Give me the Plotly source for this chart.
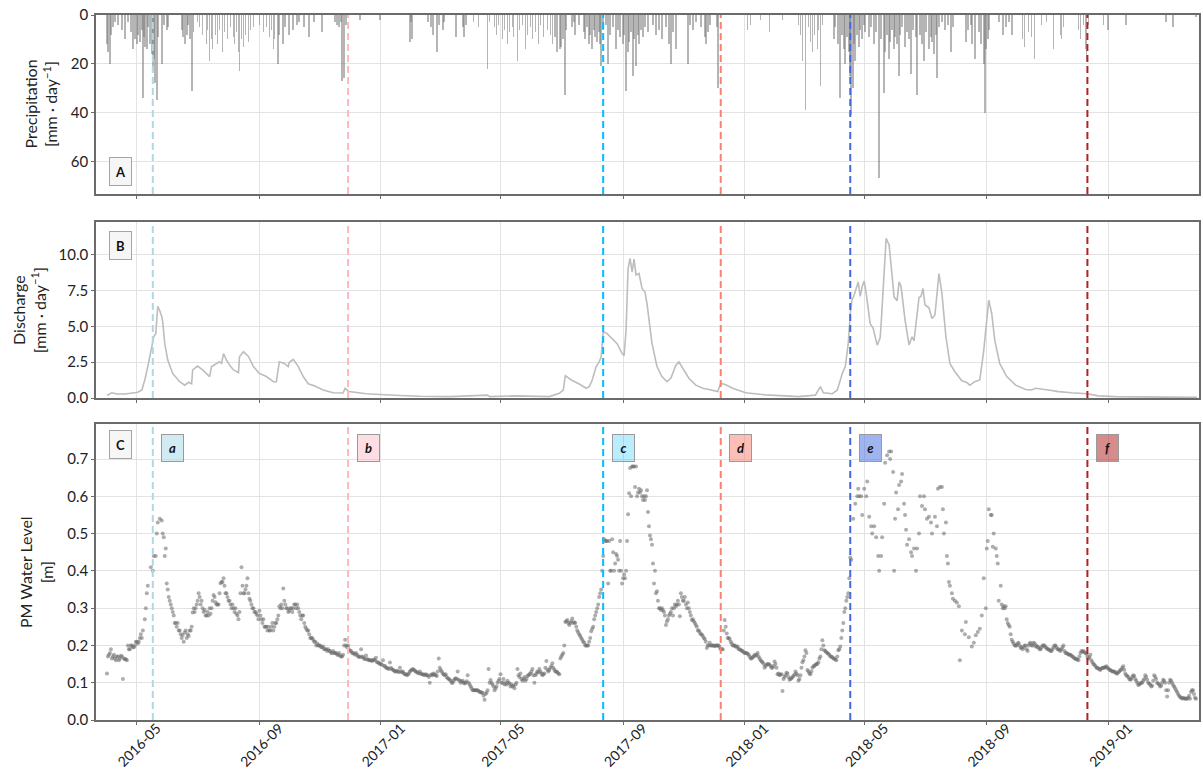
import pandas as pd
import plotly.graph_objects as go
from plotly.subplots import make_subplots

# Day 0 of the record
START = pd.Timestamp("2016-04-01")

# Daily precipitation on wet days: (day of record, mm/day)
rain = [
    (0, 12), (1, 15), (3, 20), (4, 8), (6, 5), (8, 3), (11, 4), (15, 6), (18, 10), (21, 3), (24, 7), (26, 14),
    (28, 10), (30, 12), (31, 8), (33, 11), (35, 6), (36, 34), (37, 9), (38, 13), (40, 14), (41, 5), (43, 12),
    (45, 16), (46, 22), (47, 18), (48, 28), (50, 35), (51, 9), (55, 20), (57, 4), (60, 6), (61, 5),
    (75, 6), (76, 9), (78, 12), (80, 8), (81, 4), (83, 10), (85, 31), (87, 7),
    (91, 3), (93, 5), (96, 8), (100, 12), (101, 6), (103, 19), (105, 10), (106, 14), (109, 8), (111, 12),
    (113, 6), (116, 15), (118, 7), (121, 10), (124, 5), (127, 9), (128, 12), (130, 7), (132, 15), (133, 23),
    (135, 10), (137, 13), (139, 8), (142, 11), (144, 6), (147, 5), (153, 4), (157, 7), (160, 5), (163, 9),
    (165, 6), (167, 14), (168, 10), (172, 20), (173, 8), (177, 12), (179, 5), (183, 8), (187, 6), (191, 4),
    (193, 3), (198, 5), (203, 9), (208, 3), (216, 7), (229, 3), (231, 4), (233, 5), (235, 3), (236, 27),
    (238, 26), (240, 4), (254, 2), (274, 2),
    (304, 11), (305, 3), (306, 10), (322, 3), (325, 5), (327, 8), (331, 15), (333, 4), (337, 6), (338, 3),
    (350, 9), (357, 5), (358, 9), (360, 4), (368, 3), (373, 5), (382, 22), (384, 3),
    (389, 5), (391, 8), (393, 4), (397, 10), (399, 6), (402, 12), (404, 7), (407, 5), (408, 9), (412, 19),
    (414, 6), (417, 4), (420, 14), (422, 8), (425, 5), (427, 10), (430, 7), (433, 12), (435, 4), (438, 9),
    (442, 6), (445, 8), (447, 12), (450, 9), (452, 15), (455, 14), (456, 13), (458, 10), (460, 33), (461, 6),
    (467, 5), (469, 3), (470, 8), (474, 4), (479, 7), (480, 10), (482, 5), (484, 12), (485, 8), (487, 14),
    (489, 6), (490, 9), (492, 11), (494, 7), (495, 12), (496, 21), (498, 6),
    (501, 4), (503, 20), (505, 8), (508, 5), (511, 14), (513, 6), (515, 9), (518, 12), (519, 8), (521, 31),
    (523, 15), (524, 11), (526, 7), (528, 25), (529, 10), (531, 21), (533, 8), (534, 12), (536, 6), (538, 9),
    (540, 5), (543, 7), (548, 4), (551, 8), (554, 6), (557, 10), (561, 5), (564, 12), (566, 20), (568, 7),
    (571, 14), (583, 20), (585, 4), (588, 6), (591, 3), (596, 5), (600, 9), (601, 12), (603, 7), (605, 4),
    (612, 5), (613, 30), (643, 6), (646, 4), (656, 2), (665, 7), (678, 2),
    (694, 4), (696, 8), (698, 19), (701, 39), (704, 5), (706, 11), (708, 15), (710, 8), (713, 14), (714, 6),
    (716, 29), (718, 4), (730, 10), (731, 5), (734, 12), (736, 34), (738, 8), (740, 14), (741, 20), (743, 9),
    (745, 15), (746, 25), (747, 41), (749, 30), (750, 12), (751, 19), (753, 8), (755, 13), (756, 6), (758, 10),
    (760, 4), (761, 7), (765, 9), (767, 5), (770, 12), (772, 7), (775, 67), (777, 10), (780, 32), (781, 15),
    (783, 8), (785, 18), (786, 11), (788, 6), (790, 14), (791, 9), (793, 12), (795, 25), (796, 8), (798, 5),
    (801, 13), (803, 7), (805, 10), (807, 24), (809, 6), (812, 9), (813, 33), (816, 8), (818, 12), (820, 19),
    (822, 7), (825, 14), (827, 9), (828, 11), (830, 16), (832, 8), (833, 26), (835, 5), (838, 3), (841, 6),
    (844, 4), (847, 15), (849, 5), (862, 11), (864, 6), (867, 4), (868, 12), (871, 18), (875, 7), (877, 12),
    (880, 20), (881, 40), (882, 14), (884, 10), (885, 6), (895, 3), (899, 8), (902, 5), (905, 3), (908, 8),
    (919, 10), (921, 13), (925, 7), (928, 9), (931, 18), (938, 4), (943, 3), (950, 14), (957, 8), (958, 10),
    (960, 5), (975, 6), (977, 10), (980, 4), (982, 14), (983, 19), (985, 4), (1000, 4), (1005, 6), (1023, 4),
    (1063, 3), (1070, 5), (1093, 1),
]

# Catchment discharge: (day of record, mm/day)
discharge = [
    (0, 0.2), (5, 0.37), (10, 0.28), (18, 0.28), (26, 0.35), (31, 0.4), (35, 0.56), (38, 1.26), (41, 2.2),
    (45, 3.8), (47, 4.3), (49, 4.5), (50, 5.4), (51, 6.4), (53, 6.1), (55, 5.7), (56, 5.3), (58, 3.8),
    (61, 2.65), (66, 1.72), (73, 1.14), (78, 0.9), (82, 1.1), (85, 1.0), (86, 1.96), (91, 2.23), (96, 1.96),
    (102, 1.5), (103, 1.5), (105, 2.2), (110, 2.42), (113, 2.53), (115, 2.42), (117, 3.1), (120, 2.65),
    (123, 2.3), (127, 1.96), (132, 1.77), (133, 2.88), (137, 3.23), (142, 2.9), (147, 2.2), (153, 1.72),
    (160, 1.5), (167, 1.14), (170, 1.14), (173, 2.53), (178, 2.42), (182, 2.2), (183, 2.5), (187, 2.7),
    (192, 2.2), (197, 1.5), (202, 1.0), (208, 0.85), (217, 0.56), (227, 0.37), (237, 0.35), (239, 0.68),
    (243, 0.45), (260, 0.3), (277, 0.22), (294, 0.18), (314, 0.12), (344, 0.1), (382, 0.2), (384, 0.1),
    (411, 0.15), (424, 0.12), (444, 0.1), (454, 0.33), (458, 0.56), (460, 1.56), (466, 1.26), (474, 0.98),
    (481, 0.68), (484, 0.8), (487, 1.26), (491, 2.2), (494, 2.53), (496, 2.88), (498, 4.63), (502, 4.5),
    (507, 4.17), (512, 3.8), (517, 3.12), (519, 2.95), (521, 4.75), (523, 9.05), (525, 9.75), (527, 8.8),
    (529, 9.7), (531, 8.6), (534, 8.7), (537, 7.66), (540, 7.4), (542, 6.6), (547, 3.82), (552, 2.2),
    (557, 1.5), (562, 1.14), (566, 1.4), (571, 2.3), (574, 2.53), (579, 2.0), (584, 1.38), (591, 0.9),
    (598, 0.68), (604, 0.6), (613, 0.45), (616, 1.03), (621, 0.92), (628, 0.68), (641, 0.37), (661, 0.22),
    (694, 0.1), (711, 0.2), (716, 0.8), (719, 0.37), (728, 0.3), (733, 0.56), (738, 1.72), (741, 2.2),
    (744, 3.82), (746, 5.9), (748, 6.96), (749, 7.0), (751, 7.45), (754, 8.1), (756, 7.1), (758, 7.8),
    (760, 8.17), (762, 7.3), (766, 5.2), (769, 4.87), (773, 3.7), (776, 4.2), (777, 5.2), (780, 8.47),
    (782, 11.15), (785, 10.7), (788, 8.7), (790, 7.07), (793, 6.8), (795, 8.12), (797, 7.8), (801, 5.45),
    (805, 3.7), (808, 4.28), (810, 4.0), (815, 7.03), (817, 7.1), (819, 7.66), (821, 6.5), (825, 6.3),
    (828, 5.56), (831, 5.8), (835, 8.7), (838, 7.3), (842, 4.28), (846, 2.42), (851, 1.84), (858, 1.2),
    (863, 1.08), (866, 0.9), (871, 1.14), (876, 1.26), (880, 3.35), (883, 5.68), (885, 6.84), (888, 5.9),
    (891, 4.05), (896, 2.42), (903, 1.5), (912, 0.9), (922, 0.6), (928, 0.56), (932, 0.68), (945, 0.56),
    (955, 0.45), (968, 0.37), (984, 0.3), (995, 0.15), (1012, 0.1), (1062, 0.06), (1094, 0.05),
]

# PM water level observations: (day of record, m)
water_level = [
    (0, 0.125), (1, 0.17), (2, 0.175), (3, 0.18), (4, 0.19), (5, 0.165), (6, 0.17), (7, 0.175), (8, 0.165),
    (9, 0.16), (10, 0.17), (11, 0.17), (12, 0.16), (13, 0.165), (14, 0.172), (15, 0.17), (16, 0.11),
    (17, 0.165), (18, 0.163), (19, 0.163), (20, 0.16), (21, 0.2), (22, 0.19), (23, 0.19), (24, 0.2),
    (25, 0.2), (26, 0.195), (27, 0.195), (28, 0.2), (29, 0.21), (30, 0.21), (31, 0.205), (32, 0.21),
    (33, 0.22), (34, 0.23), (35, 0.22), (36, 0.24), (38, 0.27), (39, 0.3), (40, 0.34), (41, 0.36), (44, 0.41),
    (46, 0.4), (47, 0.44), (49, 0.44), (50, 0.5), (51, 0.53), (53, 0.54), (55, 0.535), (56, 0.5), (57, 0.49),
    (58, 0.44), (59, 0.46), (60, 0.366), (61, 0.35), (62, 0.33), (63, 0.32), (64, 0.31), (65, 0.3), (66, 0.29),
    (67, 0.28), (68, 0.26), (69, 0.26), (70, 0.25), (71, 0.26), (72, 0.24), (73, 0.24), (74, 0.23),
    (75, 0.22), (76, 0.228), (77, 0.21), (78, 0.235), (79, 0.24), (80, 0.22), (81, 0.23), (82, 0.225),
    (83, 0.24), (84, 0.24), (85, 0.25), (86, 0.288), (87, 0.3), (88, 0.29), (89, 0.3), (90, 0.31), (91, 0.32),
    (92, 0.34), (93, 0.33), (94, 0.31), (95, 0.32), (96, 0.3), (97, 0.29), (98, 0.295), (99, 0.28),
    (100, 0.28), (101, 0.29), (102, 0.28), (103, 0.3), (104, 0.285), (105, 0.3), (106, 0.32), (107, 0.335),
    (108, 0.33), (109, 0.316), (110, 0.31), (111, 0.31), (112, 0.31), (113, 0.34), (114, 0.367), (115, 0.37),
    (116, 0.37), (117, 0.38), (118, 0.36), (119, 0.34), (120, 0.34), (121, 0.33), (122, 0.32), (123, 0.32),
    (124, 0.31), (125, 0.3), (126, 0.31), (127, 0.3), (128, 0.29), (129, 0.3), (130, 0.285), (131, 0.28),
    (132, 0.27), (133, 0.29), (134, 0.34), (135, 0.41), (136, 0.36), (137, 0.34), (138, 0.34), (139, 0.35),
    (140, 0.36), (141, 0.38), (142, 0.34), (143, 0.325), (144, 0.32), (145, 0.31), (146, 0.3), (147, 0.3),
    (148, 0.29), (149, 0.29), (150, 0.285), (151, 0.28), (152, 0.27), (153, 0.293), (154, 0.28),
    (155, 0.27), (156, 0.26), (157, 0.27), (158, 0.25), (159, 0.25), (160, 0.25), (161, 0.24), (162, 0.25),
    (163, 0.24), (164, 0.24), (165, 0.25), (166, 0.26), (167, 0.24), (168, 0.25), (169, 0.26), (170, 0.26),
    (171, 0.27), (172, 0.28), (173, 0.305), (174, 0.3), (175, 0.31), (176, 0.3), (177, 0.353), (178, 0.32),
    (179, 0.31), (180, 0.3), (181, 0.3), (182, 0.29), (183, 0.293), (184, 0.3), (185, 0.3), (186, 0.29),
    (187, 0.3), (188, 0.31), (189, 0.31), (190, 0.3), (191, 0.31), (192, 0.3), (193, 0.29), (194, 0.28),
    (195, 0.27), (196, 0.28), (197, 0.28), (198, 0.26), (199, 0.25), (200, 0.245), (201, 0.24), (202, 0.24),
    (203, 0.23), (204, 0.22), (205, 0.22), (206, 0.22), (207, 0.215), (208, 0.21), (209, 0.21), (210, 0.2),
    (211, 0.205), (212, 0.2), (213, 0.2), (214, 0.2), (215, 0.195), (216, 0.195), (217, 0.197), (218, 0.19),
    (219, 0.19), (220, 0.19), (221, 0.185), (222, 0.19), (223, 0.185), (224, 0.185), (225, 0.18), (226, 0.18),
    (227, 0.185), (228, 0.18), (229, 0.18), (230, 0.18), (231, 0.175), (232, 0.175), (233, 0.18),
    (234, 0.172), (235, 0.17), (236, 0.17), (237, 0.175), (238, 0.2), (239, 0.215), (240, 0.2), (241, 0.195),
    (242, 0.2), (243, 0.19), (244, 0.185), (245, 0.185), (246, 0.18), (247, 0.18), (248, 0.178), (249, 0.175),
    (250, 0.18), (251, 0.175), (252, 0.17), (253, 0.17), (254, 0.168), (255, 0.19), (256, 0.17),
    (257, 0.168), (258, 0.165), (259, 0.163), (260, 0.173), (261, 0.163), (262, 0.162), (263, 0.16),
    (264, 0.16), (265, 0.16), (266, 0.158), (267, 0.16), (268, 0.162), (269, 0.16), (270, 0.167),
    (271, 0.155), (272, 0.155), (273, 0.152), (274, 0.15), (275, 0.15), (276, 0.148), (277, 0.16),
    (278, 0.145), (279, 0.145), (280, 0.14), (281, 0.14), (282, 0.138), (283, 0.137), (284, 0.154),
    (285, 0.14), (286, 0.136), (287, 0.135), (288, 0.133), (289, 0.13), (290, 0.13), (291, 0.132),
    (292, 0.13), (293, 0.128), (294, 0.14), (295, 0.13), (296, 0.128), (297, 0.13), (298, 0.125),
    (299, 0.123), (300, 0.123), (301, 0.12), (302, 0.122), (303, 0.125), (304, 0.13), (305, 0.133),
    (306, 0.135), (307, 0.137), (308, 0.135), (309, 0.132), (310, 0.13), (311, 0.128), (312, 0.127),
    (313, 0.125), (314, 0.13), (315, 0.125), (316, 0.123), (317, 0.122), (318, 0.122), (319, 0.12),
    (320, 0.123), (321, 0.12), (322, 0.12), (323, 0.115), (324, 0.1), (325, 0.12), (326, 0.123), (327, 0.12),
    (328, 0.125), (329, 0.122), (330, 0.12), (331, 0.118), (332, 0.13), (333, 0.165), (334, 0.14),
    (335, 0.134), (336, 0.13), (337, 0.125), (338, 0.122), (339, 0.12), (340, 0.123), (341, 0.115),
    (342, 0.112), (343, 0.11), (344, 0.108), (345, 0.105), (346, 0.1), (347, 0.1), (348, 0.105), (349, 0.11),
    (350, 0.112), (351, 0.11), (352, 0.13), (353, 0.108), (354, 0.105), (355, 0.1), (356, 0.103),
    (357, 0.105), (358, 0.1), (359, 0.098), (360, 0.1), (361, 0.104), (362, 0.12), (363, 0.1), (364, 0.095),
    (365, 0.09), (366, 0.085), (367, 0.08), (368, 0.08), (369, 0.08), (370, 0.08), (371, 0.08), (372, 0.08),
    (373, 0.078), (374, 0.075), (375, 0.075), (376, 0.073), (377, 0.073), (378, 0.065), (379, 0.054),
    (380, 0.07), (381, 0.073), (382, 0.08), (383, 0.137), (384, 0.1), (385, 0.107), (386, 0.1), (387, 0.095),
    (388, 0.09), (389, 0.08), (390, 0.085), (391, 0.09), (392, 0.1), (393, 0.105), (394, 0.11), (395, 0.123),
    (396, 0.1), (397, 0.1), (398, 0.11), (399, 0.095), (400, 0.1), (401, 0.095), (402, 0.105), (403, 0.1),
    (404, 0.098), (405, 0.09), (406, 0.095), (407, 0.09), (408, 0.092), (409, 0.085), (410, 0.095),
    (411, 0.1), (412, 0.137), (413, 0.12), (414, 0.115), (415, 0.125), (416, 0.11), (417, 0.105), (418, 0.11),
    (419, 0.115), (420, 0.105), (421, 0.11), (422, 0.118), (423, 0.12), (424, 0.123), (425, 0.125),
    (426, 0.13), (427, 0.137), (428, 0.12), (429, 0.1), (430, 0.12), (431, 0.125), (432, 0.13), (433, 0.128),
    (434, 0.137), (435, 0.13), (436, 0.125), (437, 0.12), (438, 0.123), (439, 0.125), (440, 0.14),
    (441, 0.158), (442, 0.135), (443, 0.13), (444, 0.134), (445, 0.14), (446, 0.145), (447, 0.152),
    (448, 0.14), (449, 0.135), (450, 0.13), (451, 0.13), (452, 0.128), (453, 0.125), (454, 0.123),
    (455, 0.165), (456, 0.17), (457, 0.175), (458, 0.18), (459, 0.2), (460, 0.263), (461, 0.265),
    (462, 0.268), (463, 0.26), (464, 0.255), (465, 0.26), (466, 0.265), (467, 0.272), (468, 0.26),
    (469, 0.262), (470, 0.26), (471, 0.25), (472, 0.24), (473, 0.235), (474, 0.229), (475, 0.225),
    (476, 0.22), (477, 0.215), (478, 0.21), (479, 0.207), (480, 0.2), (481, 0.2), (482, 0.2), (483, 0.2),
    (484, 0.21), (485, 0.22), (486, 0.238), (487, 0.245), (488, 0.25), (489, 0.27), (490, 0.28), (491, 0.29),
    (492, 0.3), (493, 0.31), (494, 0.33), (495, 0.34), (496, 0.35), (497, 0.4), (498, 0.44), (499, 0.485),
    (500, 0.48), (501, 0.48), (502, 0.48), (503, 0.366), (504, 0.48), (505, 0.4), (506, 0.4), (507, 0.485),
    (508, 0.45), (509, 0.4), (510, 0.42), (511, 0.445), (512, 0.44), (513, 0.43), (514, 0.4), (515, 0.48),
    (516, 0.4), (517, 0.366), (518, 0.38), (519, 0.39), (520, 0.38), (521, 0.4), (522, 0.48), (523, 0.552),
    (524, 0.608), (525, 0.676), (526, 0.6), (527, 0.68), (528, 0.68), (529, 0.68), (530, 0.625), (531, 0.68),
    (532, 0.6), (533, 0.61), (534, 0.62), (535, 0.61), (536, 0.616), (537, 0.6), (538, 0.59), (539, 0.6),
    (540, 0.59), (541, 0.6), (542, 0.616), (543, 0.558), (544, 0.52), (545, 0.495), (546, 0.485),
    (547, 0.47), (548, 0.42), (549, 0.366), (550, 0.4), (551, 0.34), (552, 0.345), (553, 0.32), (554, 0.3),
    (555, 0.3), (556, 0.295), (557, 0.3), (558, 0.295), (559, 0.29), (560, 0.28), (561, 0.255), (562, 0.264),
    (563, 0.27), (564, 0.28), (565, 0.285), (566, 0.29), (567, 0.3), (568, 0.28), (569, 0.3), (570, 0.31),
    (571, 0.305), (572, 0.31), (573, 0.32), (574, 0.31), (575, 0.278), (576, 0.34), (577, 0.33), (578, 0.32),
    (579, 0.32), (580, 0.33), (581, 0.31), (582, 0.3), (583, 0.315), (584, 0.3), (585, 0.29), (586, 0.28),
    (587, 0.268), (588, 0.27), (589, 0.265), (590, 0.26), (591, 0.255), (592, 0.25), (593, 0.24),
    (594, 0.24), (595, 0.235), (596, 0.23), (597, 0.229), (598, 0.225), (599, 0.22), (600, 0.217),
    (601, 0.21), (602, 0.193), (603, 0.2), (604, 0.2), (605, 0.207), (606, 0.2), (607, 0.2), (608, 0.2),
    (609, 0.2), (610, 0.198), (611, 0.2), (612, 0.2), (613, 0.2), (614, 0.2), (615, 0.195), (616, 0.19),
    (617, 0.19), (618, 0.19), (619, 0.24), (620, 0.268), (621, 0.25), (622, 0.232), (623, 0.22), (624, 0.22),
    (625, 0.217), (626, 0.21), (627, 0.205), (628, 0.2), (629, 0.2), (630, 0.2), (631, 0.198), (632, 0.195),
    (633, 0.197), (634, 0.19), (635, 0.19), (636, 0.188), (637, 0.186), (638, 0.185), (639, 0.182),
    (640, 0.18), (641, 0.18), (642, 0.18), (643, 0.178), (644, 0.175), (645, 0.17), (646, 0.165),
    (647, 0.165), (648, 0.168), (649, 0.17), (650, 0.175), (651, 0.172), (652, 0.175), (653, 0.18),
    (654, 0.17), (655, 0.165), (656, 0.16), (657, 0.157), (658, 0.155), (659, 0.15), (660, 0.14),
    (661, 0.145), (662, 0.148), (663, 0.15), (664, 0.15), (665, 0.148), (666, 0.145), (667, 0.14),
    (668, 0.14), (669, 0.145), (670, 0.157), (671, 0.15), (672, 0.14), (673, 0.123), (674, 0.125),
    (675, 0.12), (676, 0.122), (677, 0.123), (678, 0.078), (679, 0.11), (680, 0.115), (681, 0.12),
    (682, 0.127), (683, 0.125), (684, 0.115), (685, 0.108), (686, 0.11), (687, 0.112), (688, 0.115),
    (689, 0.118), (690, 0.122), (691, 0.13), (692, 0.125), (693, 0.12), (694, 0.105), (695, 0.11),
    (696, 0.12), (697, 0.14), (698, 0.155), (699, 0.16), (700, 0.17), (701, 0.187), (702, 0.18),
    (703, 0.134), (704, 0.13), (705, 0.125), (706, 0.123), (707, 0.13), (708, 0.14), (709, 0.144),
    (710, 0.145), (711, 0.148), (712, 0.15), (713, 0.15), (714, 0.155), (715, 0.165), (716, 0.17),
    (717, 0.19), (718, 0.214), (719, 0.2), (720, 0.187), (721, 0.185), (722, 0.182), (723, 0.18),
    (724, 0.178), (725, 0.175), (726, 0.17), (727, 0.17), (728, 0.168), (729, 0.165), (730, 0.165),
    (731, 0.162), (732, 0.16), (733, 0.17), (734, 0.187), (735, 0.19), (736, 0.197), (737, 0.22), (738, 0.24),
    (739, 0.26), (740, 0.29), (741, 0.3), (742, 0.32), (743, 0.33), (744, 0.34), (745, 0.38), (746, 0.436),
    (747, 0.43), (749, 0.54), (751, 0.58), (753, 0.6), (754, 0.62), (755, 0.6), (757, 0.6), (758, 0.55),
    (760, 0.62), (762, 0.6), (763, 0.64), (765, 0.545), (767, 0.52), (768, 0.5), (770, 0.52), (772, 0.49),
    (774, 0.44), (775, 0.4), (777, 0.44), (778, 0.49), (780, 0.58), (781, 0.69), (783, 0.71), (785, 0.72),
    (786, 0.7), (787, 0.72), (789, 0.665), (790, 0.4), (791, 0.54), (792, 0.61), (794, 0.565), (795, 0.63),
    (797, 0.64), (798, 0.66), (800, 0.58), (801, 0.55), (802, 0.51), (803, 0.47), (805, 0.485), (807, 0.45),
    (808, 0.44), (810, 0.46), (812, 0.4), (813, 0.46), (815, 0.5), (816, 0.6), (818, 0.574), (820, 0.6),
    (821, 0.565), (823, 0.54), (825, 0.545), (827, 0.53), (828, 0.5), (831, 0.545), (833, 0.52), (834, 0.62),
    (836, 0.625), (838, 0.625), (839, 0.565), (840, 0.5), (842, 0.53), (843, 0.44), (844, 0.42), (845, 0.37),
    (846, 0.36), (848, 0.34), (849, 0.325), (851, 0.32), (853, 0.315), (855, 0.305), (856, 0.16),
    (858, 0.24), (861, 0.23), (862, 0.263), (865, 0.222), (868, 0.197), (870, 0.207), (872, 0.227),
    (874, 0.236), (876, 0.245), (878, 0.28), (880, 0.38), (882, 0.3), (883, 0.46), (884, 0.48), (885, 0.565),
    (887, 0.55), (888, 0.55), (889, 0.465), (890, 0.5), (892, 0.46), (893, 0.44), (894, 0.42), (895, 0.32),
    (897, 0.36), (898, 0.31), (899, 0.3), (900, 0.305), (901, 0.3), (902, 0.305), (903, 0.27), (904, 0.26),
    (905, 0.255), (906, 0.25), (907, 0.23), (908, 0.215), (909, 0.21), (910, 0.205), (911, 0.2), (912, 0.2),
    (913, 0.2), (914, 0.205), (915, 0.207), (916, 0.2), (917, 0.193), (918, 0.195), (919, 0.19),
    (920, 0.195), (921, 0.2), (922, 0.2), (923, 0.19), (924, 0.185), (925, 0.2), (926, 0.205), (927, 0.207),
    (928, 0.2), (929, 0.2), (930, 0.207), (931, 0.205), (932, 0.197), (933, 0.2), (934, 0.195), (935, 0.195),
    (936, 0.19), (937, 0.19), (938, 0.195), (939, 0.2), (940, 0.2), (941, 0.2), (942, 0.195), (943, 0.193),
    (944, 0.19), (945, 0.19), (946, 0.188), (947, 0.185), (948, 0.185), (949, 0.19), (950, 0.195),
    (951, 0.2), (952, 0.2), (953, 0.195), (954, 0.19), (955, 0.19), (956, 0.188), (957, 0.185), (958, 0.19),
    (959, 0.195), (960, 0.2), (961, 0.185), (962, 0.18), (963, 0.18), (964, 0.178), (965, 0.176),
    (966, 0.175), (967, 0.175), (968, 0.172), (969, 0.17), (970, 0.168), (971, 0.165), (972, 0.165),
    (973, 0.163), (974, 0.162), (975, 0.16), (976, 0.17), (977, 0.18), (978, 0.185), (979, 0.183),
    (980, 0.185), (981, 0.182), (982, 0.18), (983, 0.178), (984, 0.17), (985, 0.165), (986, 0.168),
    (987, 0.175), (988, 0.16), (989, 0.155), (990, 0.15), (991, 0.148), (992, 0.145), (993, 0.14),
    (994, 0.14), (995, 0.138), (996, 0.136), (997, 0.134), (998, 0.138), (999, 0.14), (1000, 0.14),
    (1001, 0.14), (1002, 0.142), (1003, 0.144), (1004, 0.14), (1005, 0.138), (1006, 0.135), (1007, 0.134),
    (1008, 0.132), (1009, 0.13), (1010, 0.13), (1011, 0.13), (1012, 0.128), (1013, 0.125), (1014, 0.125),
    (1015, 0.128), (1016, 0.13), (1017, 0.134), (1018, 0.135), (1019, 0.14), (1020, 0.144), (1021, 0.135),
    (1022, 0.125), (1023, 0.12), (1024, 0.118), (1025, 0.115), (1026, 0.11), (1027, 0.108), (1028, 0.11),
    (1029, 0.115), (1030, 0.12), (1031, 0.118), (1032, 0.11), (1033, 0.105), (1034, 0.1), (1035, 0.094),
    (1036, 0.095), (1037, 0.098), (1038, 0.1), (1039, 0.1), (1040, 0.105), (1041, 0.11), (1042, 0.12),
    (1043, 0.115), (1044, 0.108), (1045, 0.1), (1046, 0.098), (1047, 0.095), (1048, 0.09), (1049, 0.092),
    (1050, 0.105), (1051, 0.12), (1052, 0.115), (1053, 0.11), (1054, 0.1), (1055, 0.098), (1056, 0.095),
    (1057, 0.09), (1058, 0.092), (1059, 0.1), (1060, 0.108), (1061, 0.105), (1062, 0.1), (1063, 0.08),
    (1064, 0.063), (1065, 0.08), (1066, 0.1), (1067, 0.108), (1068, 0.105), (1069, 0.1), (1070, 0.094),
    (1071, 0.09), (1072, 0.085), (1073, 0.08), (1074, 0.075), (1075, 0.07), (1076, 0.065), (1077, 0.062),
    (1078, 0.06), (1079, 0.058), (1080, 0.06), (1081, 0.058), (1082, 0.058), (1083, 0.057), (1084, 0.057),
    (1085, 0.06), (1086, 0.065), (1087, 0.057), (1088, 0.075), (1089, 0.08), (1090, 0.08), (1091, 0.07),
    (1092, 0.06), (1093, 0.057),
]

# Sampling events
event_labels = ["a", "b", "c", "d", "e", "f"]
event_dates = ["2016-05-17", "2016-11-29", "2017-08-12", "2017-12-08", "2018-04-17", "2018-12-11"]
event_colors = ["173,216,230", "255,182,193", "0,191,255", "250,128,114", "65,105,225", "178,34,34"]
event_tag_alpha = [0.55, 0.45, 0.27, 0.5, 0.5, 0.52]

panel_letters = ["A", "B", "C"]


def to_dates(days):
    return [START + pd.Timedelta(days=int(d)) for d in days]


FONT = "Lato, 'Open Sans', sans-serif"
AXIS_COL = "#6b6b6b"
GRID_COL = "#e3e3e3"

fig = make_subplots(rows=3, cols=1, shared_xaxes=True)

fig.add_trace(go.Bar(
    x=to_dates([d for d, _ in rain]), y=[v for _, v in rain],
    width=1.7 * 86400000, marker=dict(color="rgba(120,120,120,0.55)", line=dict(width=0)),
), row=1, col=1)

fig.add_trace(go.Scatter(
    x=to_dates([d for d, _ in discharge]), y=[v for _, v in discharge],
    mode="lines", line=dict(color="#bdbdbd", width=1.6),
), row=2, col=1)

fig.add_trace(go.Scatter(
    x=to_dates([d for d, _ in water_level]), y=[v for _, v in water_level],
    mode="markers", marker=dict(color="rgba(105,105,105,0.55)", size=4, line=dict(width=0)),
), row=3, col=1)

# Dashed event lines through every panel
for date, col in zip(event_dates, event_colors):
    for xr, yr in (("x", "y"), ("x2", "y2"), ("x3", "y3")):
        fig.add_shape(type="line", xref=xr, yref=f"{yr} domain", x0=date, x1=date, y0=0, y1=1,
                      line=dict(color=f"rgb({col})", width=2, dash="7px,4px"), layer="above")

annotations = []
# Event tags in panel C
for lab, date, col, alpha in zip(event_labels, event_dates, event_colors, event_tag_alpha):
    annotations.append(dict(
        text=f"<b><i>{lab}</i></b>", x=date, xref="x3", xshift=20, y=0.919, yref="y3 domain",
        xanchor="center", yanchor="middle",
        showarrow=False, bgcolor=f"rgba({col},{alpha})", bordercolor="#9a9a9a", borderwidth=1,
        width=19, height=24, font=dict(family=FONT, size=13, color="#111"),
    ))

# Panel letters
for letter, yr, ypos in zip(panel_letters, ("y", "y2", "y3"), (0.128, 0.866, 0.932)):
    annotations.append(dict(
        text=f"<b>{letter}</b>", x=0.0226, xref="paper", y=ypos, yref=f"{yr} domain",
        xanchor="center", yanchor="middle",
        showarrow=False, bgcolor="#f6f6f6", bordercolor="#a5a5a5", borderwidth=1,
        width=19, height=25, font=dict(family=FONT, size=13, color="#111"),
    ))

# Y-axis titles
titles = ["Precipitation<br>[mm · day<sup>−1</sup>]", "Discharge<br>[mm · day<sup>−1</sup>]",
          "PM Water Level<br>[m]"]
for title, yr, xpos in zip(titles, ("y", "y2", "y3"), (-0.0498, -0.0606, -0.0543)):
    annotations.append(dict(
        text=title, x=xpos, xref="paper", y=0.5, yref=f"{yr} domain", textangle=-90,
        showarrow=False, xanchor="center", yanchor="middle",
        font=dict(family=FONT, size=16, color="#222"),
    ))

axis_common = dict(showline=True, mirror=True, linecolor=AXIS_COL, linewidth=1.5,
                   showgrid=True, gridcolor=GRID_COL, gridwidth=1, zeroline=False,
                   ticks="outside", ticklen=3, tickcolor=AXIS_COL,
                   tickfont=dict(family=FONT, size=15, color="#222"))

x_range = ["2016-03-21", "2019-04-02"]
for name in ("xaxis", "xaxis2", "xaxis3"):
    fig.layout[name].update(**axis_common, range=x_range, type="date",
                            tick0="2016-01-01", dtick="M4", tickformat="%Y-%m")
fig.layout.xaxis3.update(tickangle=-45, automargin=False, ticklabelshift=20, ticklabelstandoff=-10,
                         tickfont=dict(family=FONT, size=14, color="#222"))

fig.layout.yaxis.update(**axis_common, domain=[0.7461, 1.0], range=[73.4, 0], tickvals=[0, 20, 40, 60])
fig.layout.yaxis2.update(**axis_common, domain=[0.4567, 0.7064], range=[0, 12.3],
                         tickvals=[0, 2.5, 5, 7.5, 10], tickformat=".1f")
fig.layout.yaxis3.update(**axis_common, domain=[0.0, 0.4199], range=[0, 0.794],
                         tickvals=[0, 0.1, 0.2, 0.3, 0.4, 0.5, 0.6, 0.7], tickformat=".1f")

fig.update_layout(
    width=1203, height=771,
    margin=dict(l=96, r=2, t=15, b=51),
    paper_bgcolor="white", plot_bgcolor="white",
    showlegend=False, bargap=0,
    font=dict(family=FONT, size=15, color="#222"),
    annotations=annotations,
)

fig.write_html("out.html")
